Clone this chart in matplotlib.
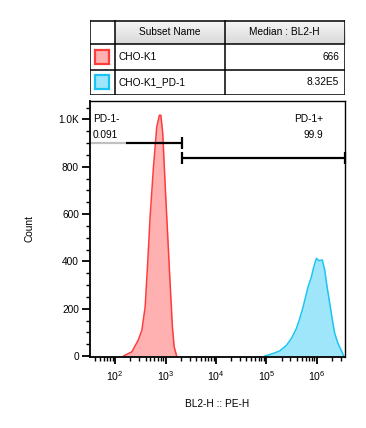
import matplotlib.pyplot as plt
import matplotlib.ticker as mticker
from matplotlib.patches import Rectangle
import numpy as np

plt.rcParams['font.family'] = ['Liberation Sans', 'DejaVu Sans']
plt.rcParams['font.size'] = 7.3

# histogram outlines (BL2-H intensity, count)
red_x = [146, 214, 288, 339, 393, 437, 493, 575, 668, 755, 804, 879, 977,
         1096, 1230, 1365, 1479, 1660]
red_y = [0, 18, 68, 110, 208, 377, 589, 800, 969, 1018, 1018, 941, 730,
         518, 307, 124, 39, 0]

cyan_x = [93300, 136500, 185000, 251000, 315000, 395000, 460000, 536000,
          624000, 673000, 783000, 871000, 984000, 1109000, 1288000, 1439000,
          1600000, 1807000, 2040000, 2270000, 2630000, 3090000, 3430000]
cyan_y = [0, 11, 22, 46, 75, 117, 159, 208, 265, 293, 335, 377, 413, 403,
          406, 363, 293, 223, 152, 96, 54, 22, 0]

subsets = ['CHO-K1', 'CHO-K1_PD-1']
medians = ['666', '8.32E5']
gate_names = ['PD-1-', 'PD-1+']
gate_pcts = ['0.091', '99.9']
gate_split = 2130

red_edge, red_fill = '#ff3c3c', '#ffb0b0'
cyan_edge, cyan_fill = '#19c6f2', '#9fe6fb'

xmin, xmax = 10**1.5, 10**6.56

fig = plt.figure(figsize=(3.66, 4.28), dpi=100)
ax = fig.add_axes([90/366, 1-357/428, 255/366, 256/428])

ax.fill_between(red_x, red_y, color=red_fill, lw=0)
ax.plot(red_x, red_y, color=red_edge, lw=1.1)
ax.fill_between(cyan_x, cyan_y, color=cyan_fill, lw=0)
ax.plot(cyan_x, cyan_y, color=cyan_edge, lw=1.1)

ax.set_xscale('log')
ax.set_xlim(xmin, xmax)
ax.set_ylim(-4, 1078)
ax.xaxis.set_major_locator(mticker.LogLocator(base=10, numticks=10))
ax.xaxis.set_minor_locator(mticker.LogLocator(base=10, subs=np.arange(2, 10), numticks=20))
ax.xaxis.set_minor_formatter(mticker.NullFormatter())
ax.yaxis.set_major_locator(mticker.MultipleLocator(200))
ax.yaxis.set_minor_locator(mticker.MultipleLocator(50))
ax.yaxis.set_major_formatter(mticker.FuncFormatter(
    lambda v, p: '1.0K' if v >= 1000 else f'{int(v)}'))
ax.tick_params(axis='y', which='major', length=6, width=1.3, labelsize=7.3, pad=2)
ax.tick_params(axis='x', which='major', length=5, width=1.3, labelsize=7.6, pad=4)
ax.tick_params(axis='both', which='minor', length=3, width=1)
for s in ax.spines.values():
    s.set_linewidth(1)
ax.spines['left'].set_linewidth(1.3)
ax.spines['bottom'].set_linewidth(1.3)

# gates
g1y, g2y = 899, 835
ax.plot([xmin, 166], [g1y, g1y], color='#c0c0c0', lw=1.6, solid_capstyle='butt')
ax.plot([166, gate_split], [g1y, g1y], color='black', lw=1.6, solid_capstyle='butt')
ax.plot([gate_split], [g1y], marker='|', ms=9, mew=1.6, color='black')
ax.plot([gate_split, xmax], [g2y, g2y], color='black', lw=1.6, solid_capstyle='butt')
ax.plot([gate_split, xmax], [g2y, g2y], ls='none', marker='|', ms=9, mew=1.6,
        color='black', clip_on=False)

ax.text(10**1.56, 1000, gate_names[0], ha='left', va='center')
ax.text(10**1.56, 935, gate_pcts[0], ha='left', va='center')
ax.text(10**6.13, 1000, gate_names[1], ha='right', va='center')
ax.text(10**6.13, 935, gate_pcts[1], ha='right', va='center')

ax.set_xlabel('BL2-H :: PE-H', labelpad=11)
ax.set_ylabel('Count', labelpad=17)

# legend table above the plot
tx = fig.add_axes([90/366, 1-95/428, 255/366, 75/428])
tx.set_xlim(90, 345)
tx.set_ylim(95, 20)
tx.axis('off')
cols = [90, 114.5, 224.5, 345]
rows = [20.5, 44, 69.5, 94.5]
grad = np.linspace(0, 1, 50).reshape(-1, 1)
tx.imshow(grad, cmap=plt.matplotlib.colors.LinearSegmentedColormap.from_list(
    'g', ['#f7f7f7', '#d9d9d9']), extent=[cols[1], cols[3], rows[1], rows[0]],
    aspect='auto', zorder=0)
for c in cols:
    tx.plot([c, c], [rows[0], rows[-1]], color='black', lw=1.1)
for r in rows:
    tx.plot([cols[0], cols[-1]], [r, r], color='black', lw=1.1)
tx.text((cols[1]+cols[2])/2, (rows[0]+rows[1])/2, 'Subset Name', ha='center', va='center')
tx.text((cols[2]+cols[3])/2, (rows[0]+rows[1])/2, 'Median : BL2-H', ha='center', va='center')
edges = [red_edge, cyan_edge]
fills = [red_fill, cyan_fill]
for i in range(2):
    cy = (rows[i+1]+rows[i+2])/2
    tx.add_patch(Rectangle((95, cy-7), 14, 14, facecolor=fills[i],
                           edgecolor=edges[i], lw=1.6))
    tx.text(cols[1]+4, cy, subsets[i], ha='left', va='center')
    tx.text(cols[3]-6, cy, medians[i], ha='right', va='center')

fig.savefig('out.png', dpi=100)
